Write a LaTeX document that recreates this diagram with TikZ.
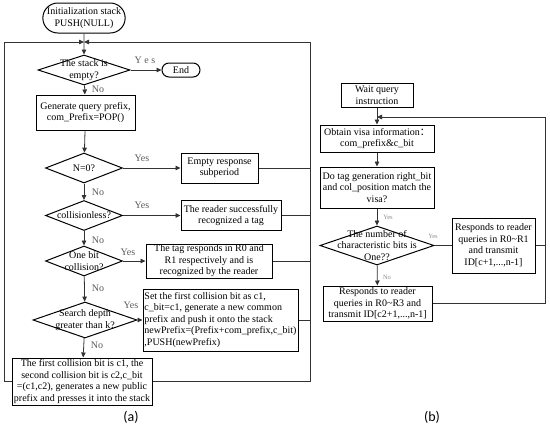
\documentclass[tikz,border=0pt]{standalone}
\usepackage{fontspec}
\setmainfont{Liberation Serif}
\newfontfamily\cjkfont{Noto Sans CJK SC}
\newfontfamily\capfont{Carlito}
\usetikzlibrary{shapes.geometric,shapes.misc,arrows.meta}
\begin{document}
\begin{tikzpicture}[x=1pt,y=-1pt,
  every node/.style={font=\fontsize{10}{11.5}\selectfont, inner sep=1pt},
  box/.style={draw, line width=1pt, align=center, inner sep=0pt},
  term/.style={draw, line width=1pt, rounded rectangle, align=center, inner sep=0pt},
  dia/.style={draw, line width=1pt, diamond, inner sep=0pt},
  conn/.style={line width=0.8pt, draw=black!80},
  arr/.style={conn, -{Triangle[length=5pt,width=4.5pt]}},
  yn/.style={text=black!65},
  ynb/.style={text=black!45, font=\fontsize{6.5}{7}\selectfont},
  captext/.style={font=\capfont\fontsize{14}{14}\selectfont},
]
\useasboundingbox (0,0) rectangle (550,429);
% ---------- (a) ----------
\node[term, minimum width=78pt, minimum height=30pt] (start) at (84,18) {Initialization stack\\PUSH(NULL)};
\coordinate (J) at (84,42);
\coordinate (fl) at (4,42);
\coordinate (fr) at (310,42);
\node[dia, minimum width=92pt, minimum height=30pt, label={[align=center]center:The stack is\\empty?}] (d1) at (84,70) {};
\node[term, minimum width=38pt, minimum height=14pt] (end) at (181,70) {End};
\node[box, minimum width=99pt, minimum height=35pt] (b1) at (85.5,112.5) {Generate query prefix,\\com\_Prefix=POP()};
\node[dia, minimum width=77pt, minimum height=30pt, label={center:N=0?}] (d2) at (84,168) {};
\node[box, minimum width=77pt, minimum height=30pt] (e1) at (219.5,168) {Empty response\\subperiod};
\node[dia, minimum width=77pt, minimum height=30pt, label={center:collisionless?}] (d3) at (84,215.5) {};
\node[box, minimum width=100pt, minimum height=30pt] (e2) at (231,215.5) {The reader successfully\\recognized a tag};
\node[dia, minimum width=77pt, minimum height=30pt, label={[align=center]center:One bit\\collision?}] (d4) at (84,261) {};
\node[box, minimum width=126pt, minimum height=34pt] (e3) at (209,261) {The tag responds in R0 and\\R1 respectively and is\\recognized by the reader};
\node[dia, minimum width=104pt, minimum height=36pt, label={[align=center]center:Search depth\\greater than k?}] (d5) at (85,320) {};
\node[box, minimum width=155pt, minimum height=62pt, align=left] (e4) at (220.5,320) {Set the first collision bit as c1,\\c\_bit=c1, generate a new common\\prefix and push it onto the stack\\newPrefix=(Prefix+com\_prefix,c\_bit)\\,PUSH(newPrefix)};
\node[box, minimum width=140pt, minimum height=47pt] (e5) at (82,381.5) {The first collision bit is c1, the\\second collision bit is c2,c\_bit\\=(c1,c2), generates a new public\\prefix and presses it into the stack};

\node[yn] (y1) at (145,60) {Y e s};
\node[yn] (n1) at (98,89) {No};
\node[yn] (y2) at (142,158) {Yes};
\node[yn] (n2) at (98,192) {No};
\node[yn] (y3) at (142,205) {Yes};
\node[yn] (n3) at (98,240) {No};
\node[yn] (y4) at (128,252) {Yes};
\node[yn] (n4) at (98,288) {No};
\node[yn] (y5) at (131,305) {Yes};
\node[yn] (n5) at (97,345) {No};

\draw[arr] (start) -- (d1);
\draw[arr] (d1) -- (end);
\draw[arr] (d1) -- (b1);
\draw[arr] (b1) -- (d2);
\draw[arr] (d2) -- (e1);
\draw[arr] (d2) -- (d3);
\draw[arr] (d3) -- (e2);
\draw[arr] (d3) -- (d4);
\draw[arr] (d4) -- (e3);
\draw[arr] (d4) -- (d5);
\draw[arr] (d5) -- (e4);
\draw[arr] (d5) -- (e5);
\draw[arr] (e5.west) -- (e5.west -| fl) -- (fl) -- (J);
\draw[arr] (e5.east) -- (e5.east -| fr) -- (fr) -- (J);
\draw[conn] (e1.east) -- (e1.east -| fr);
\draw[conn] (e2.east) -- (e2.east -| fr);
\draw[conn] (e3.east) -- (e3.east -| fr);
\draw[conn] (e4.east) -- (e4.east -| fr);

% ---------- (b) ----------
\node[box, minimum width=72pt, minimum height=24pt] (w1) at (377,95) {Wait query\\instruction};
\coordinate (J2) at (377,117);
\coordinate (br) at (545,117);
\node[box, minimum width=114pt, minimum height=27pt] (b2) at (377,138.5) {Obtain visa information{\cjkfont ：}\\com\_prefix\&c\_bit};
\node[box, minimum width=114pt, minimum height=41pt] (b3) at (377,187.5) {Do tag generation right\_bit\\and col\_position match the\\visa?};
\node[dia, minimum width=114pt, minimum height=39pt, label={[align=center]center:The number of\\characteristic bits is\\One??}] (d6) at (377,245.5) {};
\node[box, minimum width=83pt, minimum height=55pt] (r1) at (493.5,245.5) {Responds to reader\\queries in R0\textasciitilde R1\\and transmit\\ID[c+1,...,n-1]};
\node[box, minimum width=109pt, minimum height=35pt] (r2) at (377.5,303.5) {Responds to reader\\queries in R0\textasciitilde R3 and\\transmit ID[c2+1,...,n-1]};

\node[ynb] (y6) at (388,217) {Yes};
\node[ynb] (y7) at (433,236) {Yes};
\node[ynb] (n6) at (387,277) {No};

\draw[arr] (w1) -- (b2);
\draw[arr] (b2) -- (b3);
\draw[arr] (b3) -- (d6);
\draw[conn] (d6.east) -- (r1.west);
\draw[arr] (d6) -- (r2);
\draw[conn] (r1.east) -- (r1.east -| br);
\draw[arr] (r2.east) -- (r2.east -| br) -- (br) -- (J2);

\node[captext] (capa) at (131,417) {(a)};
\node[captext] (capb) at (432,417) {(b)};
\end{tikzpicture}
\end{document}
